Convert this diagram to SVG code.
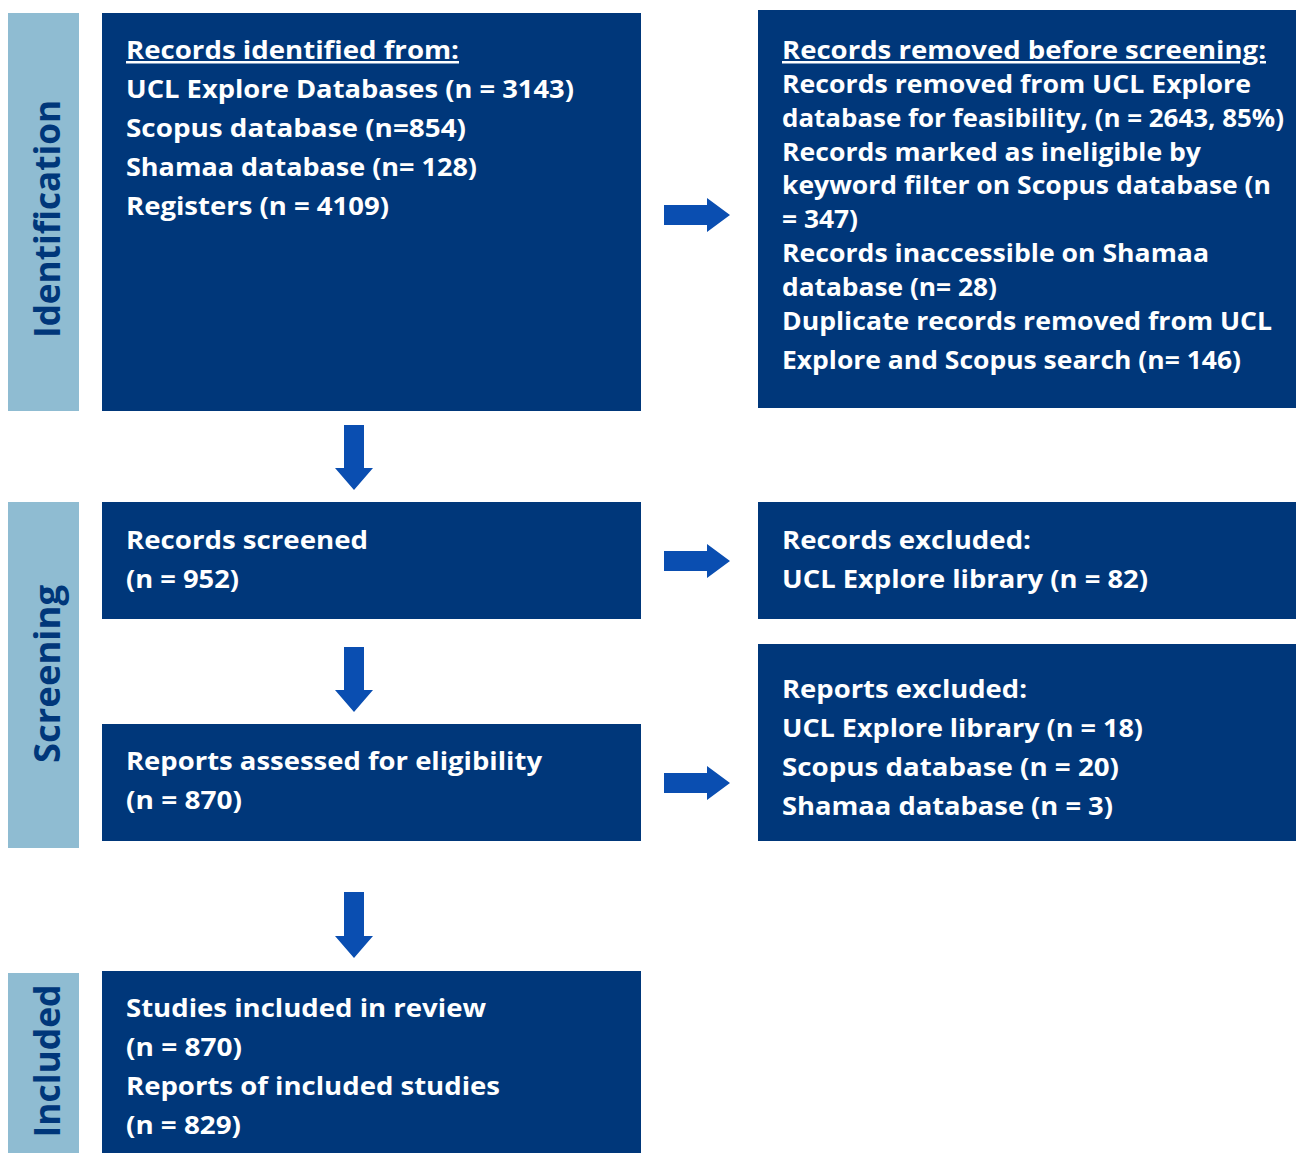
<svg xmlns="http://www.w3.org/2000/svg" width="1296" height="1153" viewBox="0 0 1296 1153">
<style>
.box{fill:#00377A}
.bar{fill:#8FBCD2}
.arr{fill:#0A4EB1}
.t{font-family:"Open Sans","Liberation Sans",sans-serif;font-weight:700;font-size:25px;fill:#FFFFFF}
.s{font-family:"Open Sans","Liberation Sans",sans-serif;font-weight:700;font-size:35px;fill:#00377A}
.u{text-decoration:underline}
</style>
<rect width="1296" height="1153" fill="#FFFFFF"/>
<g id="stage-identification">
<rect class="bar" x="8" y="13" width="71" height="398"/>
<text class="s" transform="translate(60,219) rotate(-90)" text-anchor="middle" textLength="238" lengthAdjust="spacingAndGlyphs">Identification</text>
</g>
<g id="stage-screening">
<rect class="bar" x="8" y="502" width="71" height="346"/>
<text class="s" transform="translate(60,674) rotate(-90)" text-anchor="middle" textLength="178" lengthAdjust="spacingAndGlyphs">Screening</text>
</g>
<g id="stage-included">
<rect class="bar" x="8" y="973" width="71" height="180"/>
<text class="s" transform="translate(60,1061) rotate(-90)" text-anchor="middle" textLength="153" lengthAdjust="spacingAndGlyphs">Included</text>
</g>
<g id="node-identified">
<rect class="box" x="102" y="13" width="539" height="398"/>
<text class="t u" x="126" y="59" textLength="333" lengthAdjust="spacingAndGlyphs">Records identified from:</text>
<text class="t" x="126" y="98" textLength="448" lengthAdjust="spacingAndGlyphs">UCL Explore Databases (n = 3143)</text>
<text class="t" x="126" y="137" textLength="340" lengthAdjust="spacingAndGlyphs">Scopus database (n=854)</text>
<text class="t" x="126" y="176" textLength="351" lengthAdjust="spacingAndGlyphs">Shamaa database (n= 128)</text>
<text class="t" x="126" y="215" textLength="263" lengthAdjust="spacingAndGlyphs">Registers (n = 4109)</text>
</g>
<g id="node-removed">
<rect class="box" x="758" y="10" width="538" height="398"/>
<text class="t u" x="782" y="59" textLength="484" lengthAdjust="spacingAndGlyphs">Records removed before screening:</text>
<text class="t" x="782" y="93" textLength="469" lengthAdjust="spacingAndGlyphs">Records removed from UCL Explore</text>
<text class="t" x="782" y="127" textLength="502" lengthAdjust="spacingAndGlyphs">database for feasibility, (n = 2643, 85%)</text>
<text class="t" x="782" y="161" textLength="419" lengthAdjust="spacingAndGlyphs">Records marked as ineligible by</text>
<text class="t" x="782" y="194" textLength="489" lengthAdjust="spacingAndGlyphs">keyword filter on Scopus database (n</text>
<text class="t" x="782" y="228" textLength="76" lengthAdjust="spacingAndGlyphs">= 347)</text>
<text class="t" x="782" y="262" textLength="427" lengthAdjust="spacingAndGlyphs">Records inaccessible on Shamaa</text>
<text class="t" x="782" y="296" textLength="215" lengthAdjust="spacingAndGlyphs">database (n= 28)</text>
<text class="t" x="782" y="330" textLength="490" lengthAdjust="spacingAndGlyphs">Duplicate records removed from UCL</text>
<text class="t" x="782" y="369" textLength="459" lengthAdjust="spacingAndGlyphs">Explore and Scopus search (n= 146)</text>
</g>
<g id="node-screened">
<rect class="box" x="102" y="502" width="539" height="117"/>
<text class="t" x="126" y="549" textLength="242" lengthAdjust="spacingAndGlyphs">Records screened</text>
<text class="t" x="126" y="588" textLength="113" lengthAdjust="spacingAndGlyphs">(n = 952)</text>
</g>
<g id="node-records-excluded">
<rect class="box" x="758" y="502" width="538" height="117"/>
<text class="t" x="782" y="549" textLength="249" lengthAdjust="spacingAndGlyphs">Records excluded:</text>
<text class="t" x="782" y="588" textLength="366" lengthAdjust="spacingAndGlyphs">UCL Explore library (n = 82)</text>
</g>
<g id="node-assessed">
<rect class="box" x="102" y="724" width="539" height="117"/>
<text class="t" x="126" y="770" textLength="416" lengthAdjust="spacingAndGlyphs">Reports assessed for eligibility</text>
<text class="t" x="126" y="809" textLength="116" lengthAdjust="spacingAndGlyphs">(n = 870)</text>
</g>
<g id="node-reports-excluded">
<rect class="box" x="758" y="644" width="538" height="197"/>
<text class="t" x="782" y="698" textLength="245" lengthAdjust="spacingAndGlyphs">Reports excluded:</text>
<text class="t" x="782" y="737" textLength="361" lengthAdjust="spacingAndGlyphs">UCL Explore library (n = 18)</text>
<text class="t" x="782" y="776" textLength="337" lengthAdjust="spacingAndGlyphs">Scopus database (n = 20)</text>
<text class="t" x="782" y="815" textLength="331" lengthAdjust="spacingAndGlyphs">Shamaa database (n = 3)</text>
</g>
<g id="node-included">
<rect class="box" x="102" y="971" width="539" height="182"/>
<text class="t" x="126" y="1017" textLength="360" lengthAdjust="spacingAndGlyphs">Studies included in review</text>
<text class="t" x="126" y="1056" textLength="116" lengthAdjust="spacingAndGlyphs">(n = 870)</text>
<text class="t" x="126" y="1095" textLength="374" lengthAdjust="spacingAndGlyphs">Reports of included studies</text>
<text class="t" x="126" y="1134" textLength="115" lengthAdjust="spacingAndGlyphs">(n = 829)</text>
</g>
<g id="connectors">
<polygon class="arr" points="664,205 707,205 707,198 730,215 707,232 707,225 664,225"/>
<polygon class="arr" points="664,551 707,551 707,544 730,561 707,578 707,571 664,571"/>
<polygon class="arr" points="664,773 707,773 707,766 730,783 707,800 707,793 664,793"/>
<polygon class="arr" points="344,425 364,425 364,468 373,468 354,490 335,468 344,468"/>
<polygon class="arr" points="344,647 364,647 364,690 373,690 354,712 335,690 344,690"/>
<polygon class="arr" points="344,892 364,892 364,936 373,936 354,958 335,936 344,936"/>
</g>
</svg>
